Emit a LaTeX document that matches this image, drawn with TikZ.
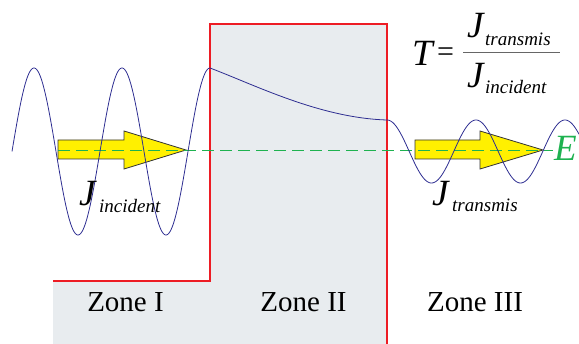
\documentclass[tikz,border=0pt]{standalone}
\usepackage{fontspec}
\setmainfont{Liberation Serif}
\definecolor{zonegray}{RGB}{232,236,239}
\definecolor{barred}{RGB}{237,28,36}
\definecolor{wavblue}{RGB}{45,45,145}
\definecolor{egreen}{RGB}{30,178,80}
\definecolor{arrowyellow}{RGB}{255,240,0}
\tikzset{
  wave/.style={draw=wavblue, line width=0.8pt},
  barrier/.style={draw=barred, line width=2.2pt},
  energy/.style={draw=egreen, line width=1.2pt, dash pattern=on 12pt off 6pt},
  fluxarrow/.style={fill=arrowyellow, draw=black!80, line width=0.8pt, line join=miter},
  bigital/.style={inner sep=0pt, anchor=base west, font=\fontsize{37}{37}\selectfont\itshape},
  subital/.style={inner sep=0pt, anchor=base west, font=\fontsize{19}{19}\selectfont\itshape},
  zonelabel/.style={inner sep=0pt, anchor=base, font=\fontsize{29}{29}\selectfont},
}
\begin{document}
\begin{tikzpicture}[x=1pt,y=-1pt]
\useasboundingbox (0,0) rectangle (579,344);
% gray zones
\fill[zonegray] (53,281) rectangle (210,344);
\fill[zonegray] (210,24) rectangle (387,344);
% barrier outline
\draw[barrier, line join=miter] (53,281) -- (210,281) -- (210,24) -- (387,24) -- (387,344);
% flux arrows
\draw[fluxarrow] (58,140) -- (124,140) -- (124,131) -- (186,150) -- (124,169) -- (124,159) -- (58,159) -- cycle;
\draw[fluxarrow] (415,140) -- (480,140) -- (480,131) -- (543,150) -- (480,169) -- (480,159) -- (415,159) -- cycle;
% energy level
\coordinate (estart) at (58,150.5);
\coordinate (eend) at (553,150.5);
\draw[energy] (estart) -- (eend);
% waves
\draw[wave] plot[domain=12:210, samples=240, smooth] (\x, {151.5-83.5*sin(4.0909*(\x-12))});
\draw[wave] (210,68) .. controls (255,85) and (320,118) .. (387,120);
\draw[wave] plot[domain=387:579, samples=200, smooth] (\x, {151.5-31.5*cos(4.0449*(\x-387))});
% labels
\node[bigital] (jin) at (79,206) {J};
\node[subital] (jinsub) at (99,213) {incident};
\node[bigital] (jtr) at (432,206) {J};
\node[subital] (jtrsub) at (452,212) {transmis};
\node[bigital, text=egreen] (E) at (554,161) {E};
% formula
\node[bigital] (T) at (412,66) {T};
\node[inner sep=0pt, anchor=base west, font=\fontsize{30}{30}\selectfont] (eq) at (437,62) {=};
\coordinate (barl) at (463,52.3);
\coordinate (barr) at (560,52.3);
\draw[black!60, line width=1pt] (barl) -- (barr);
\node[bigital] (jnum) at (467,38) {J};
\node[subital] (jnumsub) at (485,46) {transmis};
\node[bigital] (jden) at (467,88) {J};
\node[subital] (jdensub) at (485,94) {incident};
% zone labels
\node[zonelabel] (z1) at (125.5,312) {Zone I};
\node[zonelabel] (z2) at (303.5,312) {Zone II};
\node[zonelabel] (z3) at (475,312) {Zone III};
\end{tikzpicture}
\end{document}
